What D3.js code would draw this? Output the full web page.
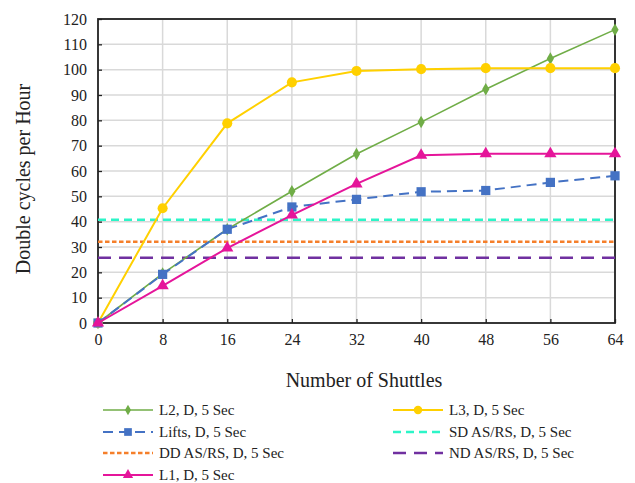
<!DOCTYPE html>
<html><head><meta charset="utf-8">
<script src="https://cdn.jsdelivr.net/npm/d3@7"></script>
<style>body{margin:0;background:#fff}svg{display:block}text{font-family:"Liberation Serif","Times New Roman",serif;fill:#222}</style>
</head><body><svg id="c" width="635" height="483"></svg>
<script>
const shuttles = [0, 8, 16, 24, 32, 40, 48, 56, 64];
const yTicks = [0,10,20,30,40,50,60,70,80,90,100,110,120];
const L2 = [0, 19.5, 37, 52, 66.7, 79.3, 92.3, 104.4, 115.8];
const L3 = [0, 45.3, 78.8, 95, 99.5, 100.2, 100.6, 100.6, 100.6];
const Lifts = [0, 19.2, 37, 45.8, 48.8, 51.8, 52.3, 55.5, 58.1];
const L1 = [0, 14.7, 29.6, 42.6, 54.9, 66.2, 66.8, 66.8, 66.8];
const SD = 40.8, DD = 32.1, ND = 25.8;
const labels = ["L2, D, 5 Sec","L3, D, 5 Sec","Lifts, D, 5 Sec","SD AS/RS, D, 5 Sec","DD AS/RS, D, 5 Sec","ND AS/RS, D, 5 Sec","L1, D, 5 Sec"];

const svg = d3.select("#c");
const x = d3.scaleLinear().domain([0,64]).range([98,615]);
const y = d3.scaleLinear().domain([0,120]).range([323,19]);

// grid
svg.append("g").selectAll("line").data(yTicks.slice(1)).join("line")
  .attr("x1",98).attr("x2",615).attr("y1",d=>y(d)).attr("y2",d=>y(d))
  .attr("stroke","#d9d9d9").attr("stroke-width",1.5);
svg.append("g").selectAll("line").data(shuttles.slice(1)).join("line")
  .attr("y1",19).attr("y2",323).attr("x1",d=>x(d)).attr("x2",d=>x(d))
  .attr("stroke","#d9d9d9").attr("stroke-width",1.5);

// axes
const ax = svg.append("g").attr("transform","translate(0,323)")
  .call(d3.axisBottom(x).tickValues(shuttles).tickSizeInner(-4).tickSizeOuter(0).tickPadding(11));
const ay = svg.append("g").attr("transform","translate(98,0)")
  .call(d3.axisLeft(y).tickValues(yTicks).tickSizeInner(-4).tickSizeOuter(0).tickPadding(11));
[ax,ay].forEach(a=>{a.attr("font-family",null).attr("font-size",null);
  a.select(".domain").remove();a.selectAll("line").attr("stroke","#222").attr("stroke-width",1.3);
  a.selectAll("text").style("font-family","'Liberation Serif', serif").style("font-size","16px").attr("fill","#222");});
svg.append("rect").attr("x",98).attr("y",19).attr("width",517).attr("height",304)
  .attr("fill","none").attr("stroke","#222").attr("stroke-width",1.8);

const series = [
  {name:labels[0], data:L2, color:"#70ad47", w:1.6, dash:null, marker:"diamond", ms:45},
  {name:labels[1], data:L3, color:"#ffd000", w:2, dash:null, marker:"circle", ms:80},
  {name:labels[2], data:Lifts, color:"#4472c4", w:2, dash:"10,6", marker:"square", ms:85},
  {name:labels[6], data:L1, color:"#e5159a", w:2, dash:null, marker:"triangle", ms:65}
];
const hlines = [
  {name:labels[3], v:SD, color:"#2cf5c8", dash:"8,5"},
  {name:labels[4], v:DD, color:"#f57f2a", dash:"4.5,2.5"},
  {name:labels[5], v:ND, color:"#7030a0", dash:"13,8"}
];
hlines.forEach(h=>{
  svg.append("line").attr("x1",98).attr("x2",615).attr("y1",y(h.v)).attr("y2",y(h.v))
    .attr("stroke",h.color).attr("stroke-width",2.5).attr("stroke-dasharray",h.dash);
});
const sym = {diamond:d3.symbolDiamond, circle:d3.symbolCircle, square:d3.symbolSquare, triangle:d3.symbolTriangle};
const line = d3.line().x((d,i)=>x(shuttles[i])).y(d=>y(d));
series.forEach(s=>{
  svg.append("path").attr("d",line(s.data)).attr("fill","none").attr("stroke",s.color)
    .attr("stroke-width",s.w).attr("stroke-dasharray",s.dash);
  svg.append("g").selectAll("path").data(s.data).join("path")
    .attr("transform",(d,i)=>`translate(${x(shuttles[i])},${y(d)})`)
    .attr("d",d3.symbol().type(sym[s.marker]).size(s.ms)).attr("fill",s.color);
});

// titles
svg.append("text").attr("x",364).attr("y",387).attr("text-anchor","middle").attr("font-size",20).text("Number of Shuttles");
svg.append("text").attr("transform","translate(30,179) rotate(-90)").attr("text-anchor","middle").attr("font-size",20).text("Double cycles per Hour");

// legend
const leg = [
  {s:series[0], col:0,row:0},{s:series[1],col:1,row:0},
  {s:series[2], col:0,row:1},{h:hlines[0],col:1,row:1},
  {h:hlines[1], col:0,row:2},{h:hlines[2],col:1,row:2},
  {s:series[3], col:0,row:3}
];
const rowY=[410,432,453,475], colX=[103,393];
leg.forEach(l=>{
  const x0=colX[l.col], yy=rowY[l.row];
  const it = l.s||l.h;
  svg.append("line").attr("x1",x0).attr("x2",x0+50).attr("y1",yy).attr("y2",yy)
    .attr("stroke",it.color).attr("stroke-width",l.s?(l.s.w):2.5).attr("stroke-dasharray",it.dash);
  if(l.s){svg.append("path").attr("transform",`translate(${x0+25},${yy})`)
    .attr("d",d3.symbol().type(sym[l.s.marker]).size(l.s.ms*0.7)).attr("fill",it.color);}
  svg.append("text").attr("x",x0+56).attr("y",yy+5).attr("font-size",15).text(it.name);
});
</script></body></html>
